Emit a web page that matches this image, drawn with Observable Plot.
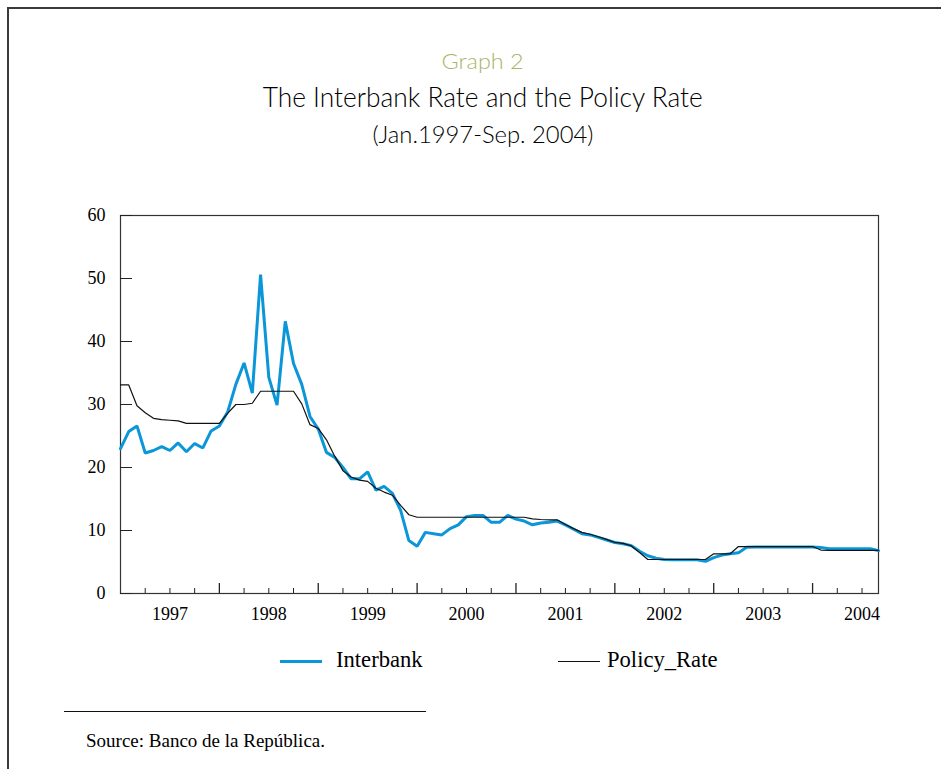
<!DOCTYPE html>
<html>
<head>
<meta charset="utf-8">
<script src="https://cdn.jsdelivr.net/npm/d3@7"></script>
<script src="https://cdn.jsdelivr.net/npm/@observablehq/plot@0.6"></script>
<style>
  body { margin: 0; background: #fff; }
  #wrap { position: relative; width: 941px; height: 769px; overflow: hidden; background: #fff; }
  #border { position: absolute; left: 7px; top: 7px; width: 1100px; height: 1100px;
            border-left: 2px solid #3a3a3a; border-top: 2px solid #3a3a3a; box-sizing: border-box; }
  .ttl { position: absolute; left: 12px; width: 941px; text-align: center; white-space: nowrap;
         font-family: Lato, "Open Sans", sans-serif; font-weight: 300; color: #000; }
  .ttl span { display: inline-block; transform-origin: 50% 50%; }
  #chart { position: absolute; left: 0; top: 0; }
  .serif { font-family: "Liberation Serif", "Times New Roman", serif; color: #000; }
  .leg { position: absolute; top: 648px; height: 24px; line-height: 24px; font-size: 22.6px; white-space: nowrap; }
  .leg i { display: inline-block; vertical-align: middle; margin-right: 14px; }
  #sep { position: absolute; left: 64px; top: 711px; width: 362px; height: 0; border-top: 1.5px solid #111; }
  #src { position: absolute; left: 86px; top: 730px; font-size: 19px; line-height: 22px; white-space: nowrap; }
</style>
</head>
<body>
<div id="wrap">
  <div id="border"></div>
  <div id="chart"></div>
  <div class="ttl" id="t0" style="top:48px;font-size:22px;line-height:26px;color:#a9b46a;"><span data-w="82">Graph 2</span></div>
  <div class="ttl" id="t1" style="top:81px;font-size:27px;line-height:32px;"><span data-w="440">The Interbank Rate and the Policy Rate</span></div>
  <div class="ttl" id="t2" style="top:120px;font-size:23px;line-height:28px;"><span data-w="221">(Jan.1997-Sep. 2004)</span></div>
  <div class="leg serif" style="left:280px;"><i style="width:42px;border-top:3px solid #0a96d8;"></i>Interbank</div>
  <div class="leg serif" style="left:558px;"><i style="width:42px;border-top:1.3px solid #111;margin-right:7px;"></i>Policy_Rate</div>
  <div id="sep"></div>
  <div id="src" class="serif">Source: Banco de la República.</div>
</div>
<script>
// Monthly data, Jan 1997 – Sep 2004 (percent)
const startYear = 1997;
const interbank = [
  23.0, 25.7, 26.6, 22.3, 22.7, 23.3, 22.7, 23.9, 22.5, 23.8, 23.1, 25.8,
  26.6, 28.8, 33.2, 36.6, 31.8, 50.6, 34.3, 29.9, 43.2, 36.5, 33.2, 28.1,
  26.1, 22.4, 21.6, 20.0, 18.2, 18.2, 19.3, 16.4, 17.0, 15.9, 13.2, 8.4,
  7.5, 9.7, 9.5, 9.3, 10.3, 10.9, 12.2, 12.4, 12.4, 11.3, 11.3, 12.4,
  11.8, 11.5, 10.9, 11.2, 11.3, 11.5, 10.9, 10.2, 9.5, 9.3, 8.9, 8.5,
  8.1, 7.9, 7.6, 6.7, 6.0, 5.6, 5.4, 5.35, 5.35, 5.35, 5.35, 5.1,
  5.7, 6.1, 6.3, 6.45, 7.35, 7.4, 7.4, 7.4, 7.4, 7.4, 7.4, 7.4,
  7.4, 7.3, 7.1, 7.1, 7.1, 7.1, 7.1, 7.1, 6.8
];
const policyRate = [
  33.1, 33.1, 29.8, 28.7, 27.8, 27.6, 27.5, 27.4, 27.0, 27.0, 27.0, 27.0,
  27.0, 28.6, 30.0, 30.0, 30.2, 32.1, 32.1, 32.1, 32.1, 32.1, 30.1, 26.8,
  26.2, 24.4, 21.8, 19.5, 18.5, 18.0, 17.8, 16.7, 16.1, 15.6, 14.0, 12.5,
  12.1, 12.1, 12.1, 12.1, 12.1, 12.1, 12.1, 12.1, 12.1, 12.1, 12.1, 12.1,
  12.1, 12.1, 11.85, 11.75, 11.7, 11.7, 10.95, 10.3, 9.7, 9.4, 9.0, 8.6,
  8.1, 7.95, 7.55, 6.5, 5.4, 5.4, 5.4, 5.4, 5.4, 5.4, 5.4, 5.4,
  6.3, 6.3, 6.3, 7.45, 7.45, 7.45, 7.45, 7.45, 7.45, 7.45, 7.45, 7.45,
  7.45, 6.9, 6.85, 6.85, 6.85, 6.85, 6.85, 6.85, 6.85
];
const yearLabels = ["1997", "1998", "1999", "2000", "2001", "2002", "2003", "2004"];
const yTicks = [0, 10, 20, 30, 40, 50, 60];

const ib = interbank.map((v, i) => ({t: startYear + i / 12, v}));
const pr = policyRate.map((v, i) => ({t: startYear + i / 12, v}));
const tEnd = startYear + (interbank.length - 1) / 12;
const years = yearLabels.map(Number);
const majorTicks = years.filter(y => y > startYear && y <= tEnd);
const minorTicks = years.flatMap(y => [y + 0.25, y + 0.5, y + 0.75]).filter(t => t <= tEnd);
const midYears = years.map(y => y + 0.5);

const chart = Plot.plot({
  width: 941,
  height: 640,
  marginLeft: 120,
  marginRight: 63,
  marginTop: 215,
  marginBottom: 47,
  style: {fontFamily: "'Liberation Serif', 'Times New Roman', serif", fontSize: "18px", color: "#000", background: "transparent", overflow: "visible"},
  x: {domain: [startYear, tEnd], label: null},
  y: {domain: [0, 60], label: null},
  marks: [
    Plot.frame({stroke: "#333", strokeWidth: 1.2}),
    Plot.axisY(yTicks, {tickSize: -12, tickPadding: 27, stroke: "#222", fontSize: 18, label: null}),
    Plot.axisX(minorTicks, {tickSize: -5, tickFormat: () => "", stroke: "#222", label: null}),
    Plot.axisX(majorTicks, {tickSize: -10, tickFormat: () => "", stroke: "#222", strokeWidth: 1.3, label: null}),
    Plot.axisX(midYears, {tickSize: 0, tickPadding: 14, tickFormat: d => yearLabels[years.indexOf(Math.floor(d))], fontSize: 18, label: null}),
    Plot.line(ib, {x: "t", y: "v", stroke: "#0a96d8", strokeWidth: 3, strokeLinejoin: "miter"}),
    Plot.line(pr, {x: "t", y: "v", stroke: "#111", strokeWidth: 1.2})
  ]
});
document.getElementById("chart").appendChild(chart);

// fit title widths to the reference
document.querySelectorAll(".ttl span").forEach(s => {
  const w = s.getBoundingClientRect().width;
  const target = +s.dataset.w;
  s.style.transform = `scaleX(${target / w})`;
});
</script>
</body>
</html>
